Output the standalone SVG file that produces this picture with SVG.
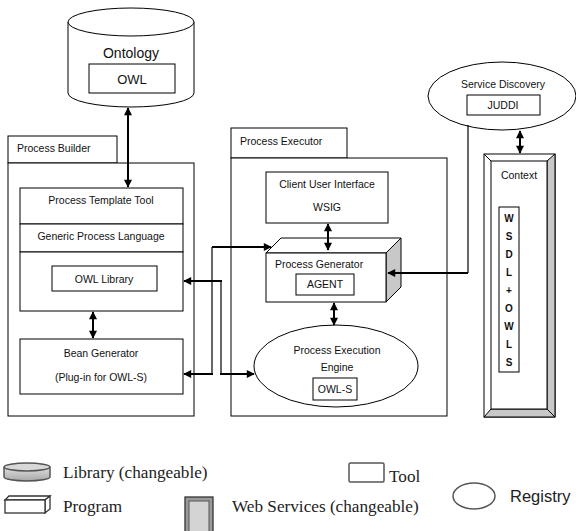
<svg xmlns="http://www.w3.org/2000/svg" width="576" height="531" viewBox="0 0 576 531">
<style>
.box{fill:#fff;stroke:#000;stroke-width:1}
.t{font-family:"Liberation Sans",Arial,sans-serif;font-size:10.5px;fill:#111;text-anchor:middle}
.tl{font-family:"Liberation Sans",Arial,sans-serif;font-size:10.5px;fill:#111}
.big{font-family:"Liberation Sans",Arial,sans-serif;font-size:14px;fill:#111;text-anchor:middle}
.h{fill:none;stroke:#000;stroke-width:2}
.v{fill:none;stroke:#000;stroke-width:1.2}
.leg{font-family:"Liberation Serif","Times New Roman",serif;font-size:17.2px;fill:#222}
.grey{fill:#c8c8c8;stroke:#000;stroke-width:1}
</style>
<defs>
<marker id="ah" viewBox="0 0 10 10" refX="9" refY="5" markerWidth="9" markerHeight="8" markerUnits="userSpaceOnUse" orient="auto-start-reverse">
<path d="M0,0 L10,5 L0,10 z" fill="#000"/>
</marker>
<linearGradient id="lg" x1="0" y1="0" x2="0" y2="1">
<stop offset="0" stop-color="#e0e0e0"/>
<stop offset="1" stop-color="#a8a8a8"/>
</linearGradient>
</defs>

<g id="ontology">
<path class="box" d="M68,22 L68,93 A63,14 0 0 0 194,93 L194,22"/>
<ellipse class="box" cx="131" cy="22" rx="63" ry="14"/>
<text class="big" x="131" y="58">Ontology</text>
<rect class="box" x="89" y="64" width="86" height="29"/>
<text class="big" x="132" y="84" style="font-size:13px">OWL</text>
</g>

<g id="process-builder">
<rect class="box" x="8" y="136" width="109" height="27"/>
<text class="tl" x="17" y="152">Process Builder</text>
<rect class="box" x="8" y="163" width="186" height="253"/>
</g>
<g id="process-template-tool">
<rect class="box" x="20" y="188" width="163" height="36"/>
<text class="t" x="101" y="204">Process Template Tool</text>
</g>
<g id="generic-process-language">
<rect class="box" x="20" y="224" width="163" height="28"/>
<text class="t" x="101" y="240">Generic Process Language</text>
</g>
<g id="owl-library">
<rect class="box" x="20" y="252" width="163" height="59"/>
<rect class="box" x="52" y="266" width="105" height="25"/>
<text class="t" x="104" y="283">OWL Library</text>
</g>
<g id="bean-generator">
<rect class="box" x="20" y="339" width="163" height="55"/>
<text class="t" x="101" y="357">Bean Generator</text>
<text class="t" x="101" y="381">(Plug-in for OWL-S)</text>
</g>

<g id="process-executor">
<rect class="box" x="231" y="128" width="116" height="30"/>
<text class="tl" x="240" y="145">Process Executor</text>
<rect class="box" x="231" y="158" width="216" height="258"/>
</g>
<g id="client-user-interface">
<rect class="box" x="266" y="172" width="122" height="51"/>
<text class="t" x="327" y="188">Client User Interface</text>
<text class="t" x="327" y="211">WSIG</text>
</g>
<g id="process-generator">
<polygon class="box" points="266,253 281,238 401,238 386,253"/>
<polygon class="grey" points="386,253 401,238 401,287 386,302"/>
<rect class="box" x="266" y="253" width="120" height="49"/>
<text class="tl" x="275" y="268">Process Generator</text>
<rect class="box" x="296" y="274" width="58" height="21"/>
<text class="t" x="325" y="288">AGENT</text>
</g>
<g id="process-execution-engine">
<ellipse class="box" cx="336" cy="366" rx="82" ry="41"/>
<text class="t" x="337" y="354">Process Execution</text>
<text class="t" x="337" y="371">Engine</text>
<rect class="box" x="313" y="378" width="44" height="22"/>
<text class="t" x="335" y="393">OWL-S</text>
</g>

<g id="service-discovery">
<ellipse class="box" cx="502" cy="96" rx="74" ry="34"/>
<text class="t" x="503" y="88">Service Discovery</text>
<rect class="box" x="467" y="95" width="73" height="20"/>
<text class="t" x="503" y="109">JUDDI</text>
</g>
<g id="context">
<rect class="box" x="484" y="154" width="71" height="263"/>
<polygon class="grey" points="547,161 555,154 555,417 547,409"/>
<polygon class="grey" points="491,409 547,409 555,417 484,417"/>
<line x1="484" y1="154" x2="491" y2="161" stroke="#000"/>
<rect class="box" x="491" y="161" width="56" height="248"/>
<text class="t" x="519" y="179">Context</text>
<rect class="box" x="499" y="207" width="20" height="165"/>
<g class="t" style="font-weight:bold;font-size:10px">
<text x="509" y="222">W</text>
<text x="509" y="240">S</text>
<text x="509" y="258">D</text>
<text x="509" y="276">L</text>
<text x="509" y="294">+</text>
<text x="509" y="312">O</text>
<text x="509" y="330">W</text>
<text x="509" y="348">L</text>
<text x="509" y="366">S</text>
</g>
</g>

<g id="connectors">
<line class="h" x1="128" y1="108" x2="128" y2="187" marker-start="url(#ah)" marker-end="url(#ah)"/>
<line class="h" x1="93" y1="312" x2="93" y2="338" marker-start="url(#ah)" marker-end="url(#ah)"/>
<line class="h" x1="328" y1="224" x2="328" y2="250" marker-start="url(#ah)" marker-end="url(#ah)"/>
<line class="h" x1="334" y1="303" x2="334" y2="325" marker-start="url(#ah)" marker-end="url(#ah)"/>
<line class="h" x1="520" y1="131" x2="520" y2="153" marker-start="url(#ah)" marker-end="url(#ah)"/>
<polyline class="v" points="468,125 468,273"/>
<line class="h" x1="468" y1="273" x2="388" y2="273" marker-end="url(#ah)"/>
<line class="h" x1="212" y1="247" x2="271" y2="247" marker-end="url(#ah)"/>
<line class="v" x1="212" y1="247" x2="212" y2="374"/>
<line class="h" x1="213" y1="374" x2="184" y2="374" marker-end="url(#ah)"/>
<line class="h" x1="222" y1="281" x2="184" y2="281" marker-end="url(#ah)"/>
<line class="v" x1="221" y1="281" x2="221" y2="374"/>
<line class="h" x1="220" y1="374" x2="254" y2="374" marker-end="url(#ah)"/>
</g>

<g id="legend">
<path d="M4,467 L4,477 A23,4 0 0 0 50,477 L50,467" fill="url(#lg)" stroke="#555" stroke-width="1.5"/>
<ellipse cx="27" cy="467" rx="23" ry="4" fill="#d8d8d8" stroke="#555" stroke-width="1.5"/>
<text class="leg" x="63" y="478">Library (changeable)</text>
<polygon points="5,500 9,496 50,496 45,500" fill="#fff" stroke="#333" stroke-width="1.3"/>
<polygon points="45,500 50,496 50,509 45,513" fill="#fff" stroke="#333" stroke-width="1.3"/>
<rect x="5" y="500" width="40" height="13" fill="#fff" stroke="#333" stroke-width="1.3"/>
<text class="leg" x="63" y="512">Program</text>
<rect x="185" y="497" width="28" height="36" fill="#9a9a9a" stroke="#333" stroke-width="1.3"/>
<rect x="189" y="501" width="20" height="32" fill="#d4d4d4" stroke="#555" stroke-width="1"/>
<text class="leg" x="232" y="512">Web Services (changeable)</text>
<rect x="349" y="463" width="35" height="19" rx="1.5" fill="#fff" stroke="#555" stroke-width="1.5"/>
<text class="leg" x="389" y="482">Tool</text>
<ellipse cx="474" cy="496" rx="21" ry="13" fill="#fff" stroke="#555" stroke-width="1.5"/>
<text x="510" y="502" style="font-family:'Liberation Sans',Arial,sans-serif;font-size:16.5px;fill:#222">Registry</text>
</g>
</svg>
